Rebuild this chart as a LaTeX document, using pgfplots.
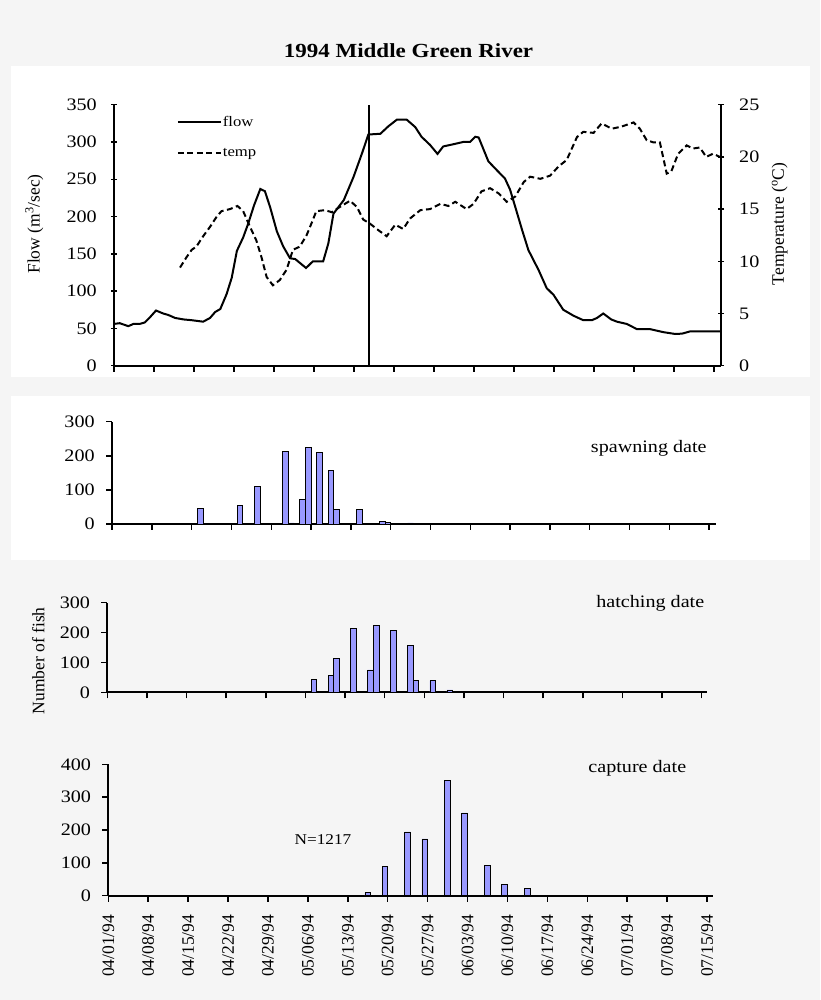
\documentclass[border=0pt]{standalone}
\usepackage{pgfplots}
\pgfplotsset{compat=1.18}
\usepackage{pgfplotstable}
\usepackage{fontspec}
\setmainfont{Liberation Serif}[FakeStretch=1.15]
\newfontfamily\rotfont{Liberation Serif}
\definecolor{bg}{HTML}{F5F5F5}
\definecolor{barblue}{HTML}{9999FF}
\newcommand\fs[1]{\fontsize{#1}{#1}\selectfont}

% day (from 04/01/94), flow m3/sec
\pgfplotstableread{
d v
0 56
1 57
2.5 53
3.4 56
4.5 56
5.4 58
6.3 65
7.35 74
8.6 70
9.5 68
10.7 64
12.2 62
13.6 61
15.6 59
16.8 64
17.7 72
18.6 76
19.7 96
20.6 118
21.5 154
22.6 172
23.5 191
24.5 215
25.6 237
26.4 234
27.3 213
28.5 180
29.6 160
30.8 144
31.7 143
33.6 131
34.8 140
36.6 140
37.5 164
38.4 204
40.2 222
41.9 253
43.4 285
44.5 310
46.6 311
48 321
49.5 330
51.2 330
52.7 320
53.8 307
55.3 296
56.6 284
57.6 294
59.4 297
61.1 300
62.3 300
63.2 307
63.8 306
65.5 274
67 262
68.4 251
69.3 236
70.2 213
71.4 182
72.5 155
74.3 128
75.7 104
76.9 95
78.6 75
80.4 67
82.1 61
83.6 61
84.5 64
85.6 70
87 62
88 59
89.7 56
91.5 49
93.8 49
96.1 45
98.2 42.5
99.4 43
100.8 46
106.2 46
}\flowdata

% day, temperature C
\pgfplotstableread{
d t
11.55 9.4
12.7 10.4
13.6 11.1
14.4 11.4
15.6 12.4
16.8 13.3
18 14.3
18.8 14.8
20.3 15.0
21.6 15.3
22.6 14.8
23.8 13.3
24.9 12.0
25.8 10.4
26.7 8.5
27.8 7.7
29 8.2
30.2 9.2
31.3 11.1
32.5 11.4
33.7 12.5
34.6 13.7
35.4 14.8
36.9 14.9
38.1 14.7
39.5 15.2
41.3 15.8
42.5 15.2
43.6 14.0
44.8 13.6
46.2 13.0
47.7 12.4
49.2 13.5
50.6 13.1
51.8 14.1
53.6 14.9
55.3 15.0
57.1 15.5
58.5 15.3
59.7 15.7
61.7 15.0
62.9 15.5
64.3 16.7
65.8 17.0
67.3 16.5
68.7 15.7
70.2 16.2
71.7 17.6
72.8 18.1
74.6 17.9
76.3 18.2
77.8 19.1
79.2 19.7
81 21.9
82.1 22.4
83.9 22.3
85.3 23.2
87.1 22.7
88.8 22.9
90.9 23.3
92 22.7
93.2 21.6
94.3 21.4
95.5 21.4
96.7 18.4
97.5 18.6
98.7 20.3
100.2 21.1
101.3 20.8
102.5 20.9
103.6 20.0
104.8 20.3
106 20.0
}\tempdata

\pgfplotstableread{
d n
12 1
15 45
18 1
22 54
25 111
30 212
31 3
33 72
34 225
36 209
38 156
39 42
43 42
47 8
48 4
52 3
}\spawn

\pgfplotstableread{
d n
34 1
36 44
39 57
40 114
43 214
44 3
46 75
47 224
50 208
53 156
54 39
57 39
60 8
61 4
64 3
}\hatch

\pgfplotstableread{
d n
45 9
48 89
52 194
55 173
59 351
62 252
66 92
69 34
73 21
76 2
}\capture

\pgfplotsset{
  panel/.style={
    scale only axis, xmin=0, xmax=106.1, xtick={0,7,...,105},
    axis x line*=bottom, axis y line*=left,
    axis line style={line width=2pt},
    tick style={line width=1.5pt, black},
    major tick length=6pt, tick align=outside,
    ymin=0, enlargelimits=false,
    /pgf/number format/assume math mode=true,
    tick label style={font=\fs{17.5}},
    yticklabel style={inner xsep=11pt},
    xticklabels={},
  },
  bars/.style={ybar, bar width=1, fill=barblue, draw=black, line width=0.7pt},
}

\begin{document}
\begin{tikzpicture}
\fill[bg] (0pt,0pt) rectangle (820pt,1000pt);
\fill[white] (11pt,623.3pt) rectangle (810pt,934.3pt);
\fill[white] (11pt,439.7pt) rectangle (810pt,604.3pt);

% flow
\begin{axis}[panel, at={(114pt,634.3pt)}, anchor=south west,
  width=607pt, height=261pt, xmax=106.2,
  ymax=350, ytick={0,50,...,350}, ytick align=center,
  yticklabel style={inner xsep=14pt}]
  \addplot[line width=2pt, black] table[x=d, y=v] {\flowdata};
  \addplot[line width=2pt, black] coordinates {(44.6,0) (44.6,350)};
\end{axis}
% temperature
\begin{axis}[scale only axis, at={(114pt,634.3pt)}, anchor=south west,
  width=607pt, height=261pt, xmin=0, xmax=106.2, ymin=0, ymax=25,
  axis x line=none, axis y line*=right,
  axis line style={line width=2pt},
  tick style={line width=1.5pt, black}, major tick length=6pt,
  ytick={0,5,...,25}, ytick align=center,
  /pgf/number format/assume math mode=true,
  tick label style={font=\fs{17.5}},
  yticklabel style={inner xsep=15pt},
  legend style={at={(0.1033,0.8755)}, anchor=west, draw=none, fill=none,
    font=\fs{14.5}, row sep=18pt, inner sep=0pt, nodes={inner sep=1pt}},
  legend cell align=left,
  legend image code/.code={\draw[#1] (0pt,0pt) -- (43pt,0pt);}]
  \addlegendimage{line width=2pt, black}
  \addlegendentry{flow}
  \addplot[line width=2pt, black, dash pattern=on 6pt off 3.5pt] table[x=d, y=t] {\tempdata};
  \addlegendentry{temp}
\end{axis}

% spawning
\begin{axis}[panel, bars, at={(112pt,476pt)}, anchor=south west,
  width=604pt, height=102.3pt, xmax=106.2, ymax=300, ytick={0,100,200,300}]
  \addplot[bars] table[x expr=\thisrow{d}+0.5, y=n] {\spawn};
\end{axis}

% hatching
\begin{axis}[panel, bars, at={(107.3pt,307.7pt)}, anchor=south west,
  width=599.4pt, height=89.6pt, xmax=105.9, ymax=300, ytick={0,100,200,300}]
  \addplot[bars] table[x expr=\thisrow{d}+0.5, y=n] {\hatch};
\end{axis}

% capture
\begin{axis}[panel, bars, at={(108.3pt,104.3pt)}, anchor=south west,
  width=605pt, height=131.4pt, ymax=400, ytick={0,100,200,300,400},
  xticklabels={04/01/94,04/08/94,04/15/94,04/22/94,04/29/94,05/06/94,05/13/94,
    05/20/94,05/27/94,06/03/94,06/10/94,06/17/94,06/24/94,07/01/94,07/08/94,07/15/94},
  xticklabel style={font=\rotfont\fs{17.5}, rotate=90, anchor=east,
    inner xsep=17pt, xshift=4.4pt}]
  \addplot[bars] table[x expr=\thisrow{d}+0.5, y=n] {\capture};
\end{axis}

\node[anchor=base, font=\bfseries\fs{20}] at (408.5pt,942.7pt) {1994 Middle Green River};
\node[rotate=90, font=\rotfont\fs{17.5}] at (34.2pt,776pt) {Flow (m\textsuperscript{3}/sec)};
\node[rotate=90, font=\rotfont\fs{17.5}] at (779.7pt,776pt) {Temperature (\textsuperscript{o}C)};
\node[rotate=90, font=\rotfont\fs{17.5}] at (38.3pt,339.2pt) {Number of fish};
\node[anchor=base, font=\fs{17.5}] at (648.8pt,547.3pt) {spawning date};
\node[anchor=base, font=\fs{17.5}] at (650.3pt,392.3pt) {hatching date};
\node[anchor=base, font=\fs{17.5}] at (637.3pt,227.3pt) {capture date};
\node[anchor=base, font=\fs{15}] at (323pt,155pt) {N=1217};

\pgfresetboundingbox
\path[use as bounding box] (0pt,0pt) rectangle (820pt,1000pt);
\end{tikzpicture}
\end{document}
